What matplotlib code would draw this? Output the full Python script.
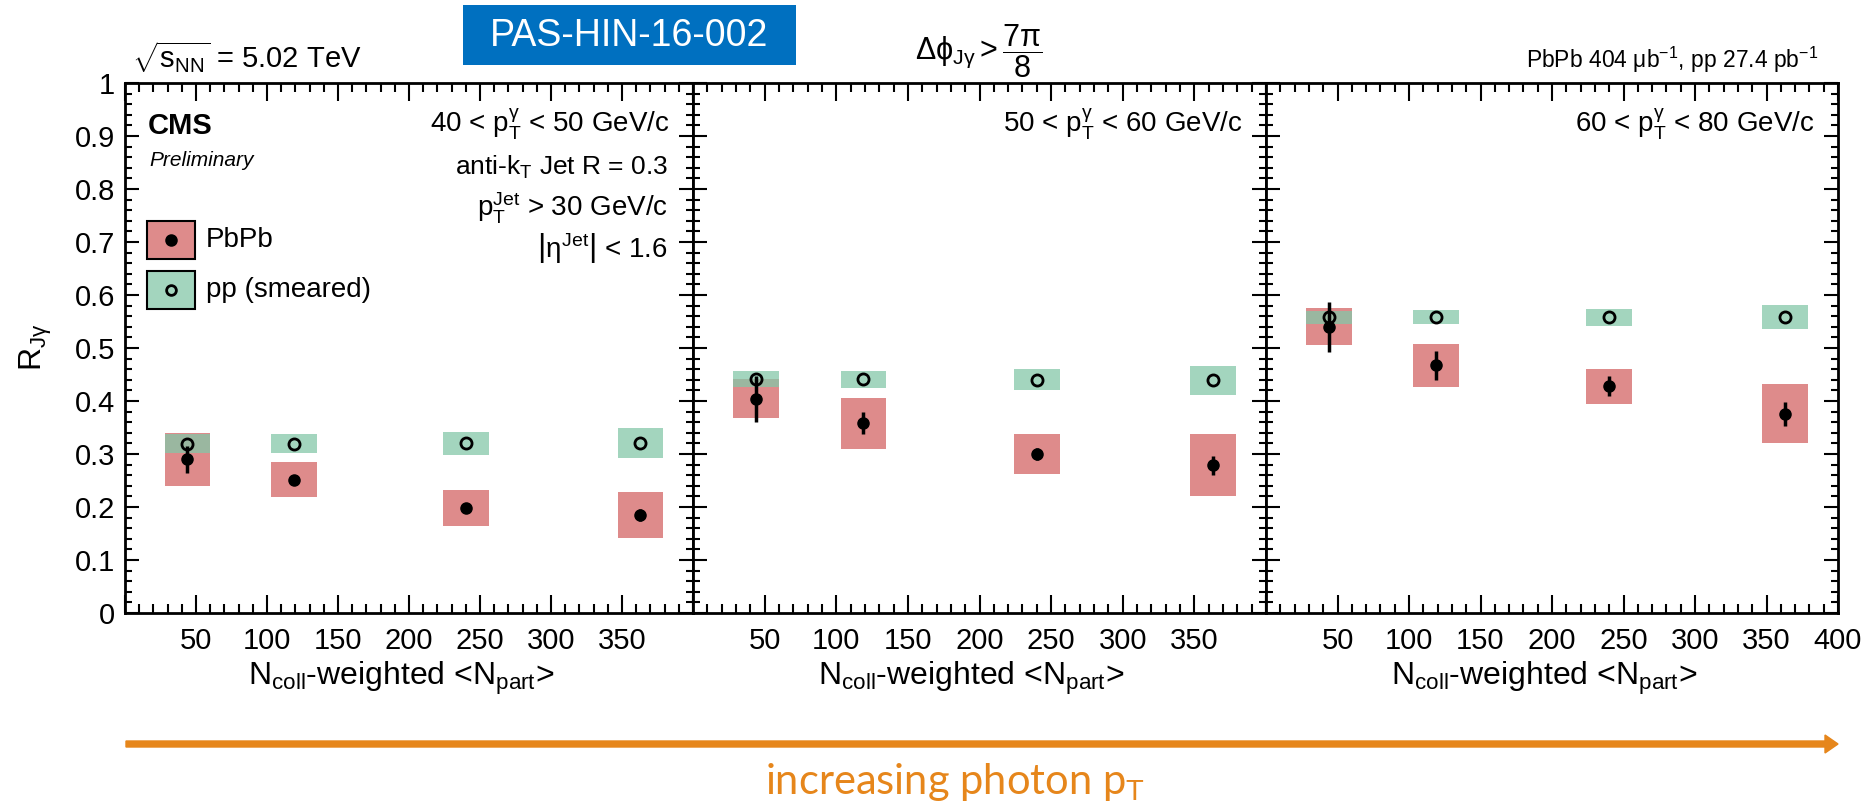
import matplotlib
matplotlib.use('Agg')
import matplotlib.pyplot as plt
from matplotlib.patches import Rectangle, FancyArrow
from matplotlib.ticker import MultipleLocator, FuncFormatter
from matplotlib.transforms import Affine2D

plt.rcParams['font.family'] = ['Liberation Sans', 'DejaVu Sans']
plt.rcParams['mathtext.fontset'] = 'custom'
plt.rcParams['mathtext.rm'] = 'Liberation Sans'
plt.rcParams['mathtext.it'] = 'Liberation Sans'
plt.rcParams['mathtext.bf'] = 'Liberation Sans:bold'

# Ncoll-weighted <Npart> of the four centrality bins
npart = [44, 119, 240, 363]

# photon pT bins
pt_labels = [r'40 < p$_{T}^{\gamma}$ < 50 GeV/c',
             r'50 < p$_{T}^{\gamma}$ < 60 GeV/c',
             r'60 < p$_{T}^{\gamma}$ < 80 GeV/c']

# R_Jgamma in PbPb: value, stat. error, syst. error
pbpb_val = [[0.290, 0.251, 0.198, 0.185],
            [0.404, 0.358, 0.300, 0.279],
            [0.540, 0.467, 0.428, 0.376]]
pbpb_stat = [[0.025, 0.010, 0.010, 0.012],
             [0.043, 0.021, 0.012, 0.018],
             [0.047, 0.028, 0.019, 0.023]]
pbpb_sys = [[0.050, 0.033, 0.034, 0.044],
            [0.037, 0.048, 0.037, 0.059],
            [0.035, 0.041, 0.033, 0.056]]

# R_Jgamma in smeared pp reference: value, syst. error
pp_val = [[0.319, 0.319, 0.320, 0.321],
          [0.442, 0.441, 0.440, 0.439],
          [0.558, 0.558, 0.558, 0.558]]
pp_sys = [[0.018, 0.018, 0.021, 0.028],
          [0.015, 0.016, 0.020, 0.027],
          [0.012, 0.013, 0.016, 0.023]]

W, H = 1875, 808
red_box = '#DE8B8B'
green_box = '#84C7A8'
orange = '#E6861B'

fig = plt.figure(figsize=(W / 100, H / 100), dpi=100)
# pixel coordinates measured from the top-left corner
px = Affine2D().scale(1 / W, -1 / H).translate(0, 1) + fig.transFigure

edges = [125, 693, 1266, 1838]
top, bottom = 83, 613
axes = []
for i in range(3):
    ax = fig.add_axes([edges[i] / W, 1 - bottom / H, (edges[i + 1] - edges[i]) / W, (bottom - top) / H])
    axes.append(ax)

    ax.bar(npart, [2 * s for s in pbpb_sys[i]], bottom=[v - s for v, s in zip(pbpb_val[i], pbpb_sys[i])],
           width=32, color=red_box, linewidth=0, zorder=1)
    ax.bar(npart, [2 * s for s in pp_sys[i]], bottom=[v - s for v, s in zip(pp_val[i], pp_sys[i])],
           width=32, color=green_box, alpha=0.75, linewidth=0, zorder=2)
    ax.errorbar(npart, pbpb_val[i], yerr=pbpb_stat[i], fmt='o', color='black', ms=8,
                elinewidth=2.5, capsize=0, zorder=4)
    ax.plot(npart, pp_val[i], 'o', mfc='none', mec='black', mew=2, ms=8, zorder=3)

    ax.set_xlim(0, 400)
    ax.set_ylim(0, 1)
    ax.xaxis.set_major_locator(MultipleLocator(50))
    ax.xaxis.set_minor_locator(MultipleLocator(10))
    ax.yaxis.set_major_locator(MultipleLocator(0.1))
    ax.yaxis.set_minor_locator(MultipleLocator(0.02))
    last = (i == 2)
    ax.xaxis.set_major_formatter(FuncFormatter(
        lambda v, pos, last=last: '' if v < 1 or (v > 399 and not last) else f'{v:.0f}'))
    if i == 0:
        ax.yaxis.set_major_formatter(FuncFormatter(
            lambda v, pos: '0' if abs(v) < 1e-6 else ('1' if abs(v - 1) < 1e-6 else f'{v:.1f}')))
    else:
        ax.yaxis.set_major_formatter(FuncFormatter(lambda v, pos: ''))
    ax.tick_params(which='both', direction='in', top=True, right=True, width=1.5, labelsize=21)
    ax.tick_params(axis='x', which='major', length=13, pad=10)
    ax.tick_params(axis='x', which='minor', length=6.5)
    ax.tick_params(axis='y', which='major', length=10, pad=7)
    ax.tick_params(axis='y', which='minor', length=5)
    for sp in ax.spines.values():
        sp.set_linewidth(2)

    fig.text(edges[i + 1] - 24, 133, pt_labels[i], transform=px, ha='right', va='baseline', fontsize=20)
    fig.text((edges[i] + edges[i + 1]) / 2 - 8, 685, r'N$_{\mathrm{coll}}$-weighted <N$_{\mathrm{part}}$>',
             transform=px, ha='center', va='baseline', fontsize=23)

fig.text(36, 347, r'$R_{J\gamma}$', transform=px, rotation=90, ha='center', va='center', fontsize=23)

# header texts
fig.text(132, 68, r'$\sqrt{s_{\mathrm{NN}}}$ = 5.02 TeV', transform=px, ha='left', va='baseline', fontsize=21)
fig.text(979, 60, r'$\Delta\phi_{J\gamma} > \dfrac{7\pi}{8}$', transform=px, ha='center', va='baseline',
         fontsize=22)
fig.text(1818, 68, r'PbPb 404 $\mu$b$^{-1}$, pp 27.4 pb$^{-1}$', transform=px, ha='right', va='baseline',
         fontsize=16.5)

fig.add_artist(Rectangle((463, 5), 333, 60, transform=px, facecolor='#0070C0', edgecolor='none'))
fig.text(629, 36, 'PAS-HIN-16-002', transform=px, ha='center', va='center', color='white', fontsize=27)

# labels inside the first panel
fig.text(148, 134, 'CMS', transform=px, ha='left', va='baseline', fontsize=21, fontweight='bold')
fig.text(149, 166, 'Preliminary', transform=px, ha='left', va='baseline', fontsize=15, fontstyle='italic')
fig.text(668, 175, r'anti-k$_{T}$ Jet R = 0.3', transform=px, ha='right', va='baseline', fontsize=19)
fig.text(668, 217, r'p$_{T}^{\mathrm{Jet}}$ > 30 GeV/c', transform=px, ha='right', va='baseline', fontsize=20)
fig.text(668, 257, r'$\left|\eta^{\mathrm{Jet}}\right|$ < 1.6', transform=px, ha='right', va='baseline',
         fontsize=20)

# legend
leg_items = [('PbPb', red_box, 'black', 240), ('pp (smeared)', '#A3D5BE', 'none', 290)]
for name, fc, mfc, yc in leg_items:
    fig.add_artist(Rectangle((147, yc - 19), 48, 38, transform=px, facecolor=fc, edgecolor='black', lw=1.5))
    fig.add_artist(plt.Line2D([171], [yc], transform=px, marker='o', ms=7, mfc=mfc, mec='black', mew=2))
    fig.text(206, yc, name, transform=px, ha='left', va='center', fontsize=20)

# photon pT direction
fig.add_artist(FancyArrow(126, 744, 1712, 0, width=6, head_width=18, head_length=13,
                          length_includes_head=True, color=orange, transform=px))
fig.text(955, 782, r'increasing photon p$_{\mathrm{T}}$', transform=px, ha='center', va='center',
         color=orange, fontsize=30, family=['Lato', 'DejaVu Sans'])

fig.savefig('out.png', dpi=100)
